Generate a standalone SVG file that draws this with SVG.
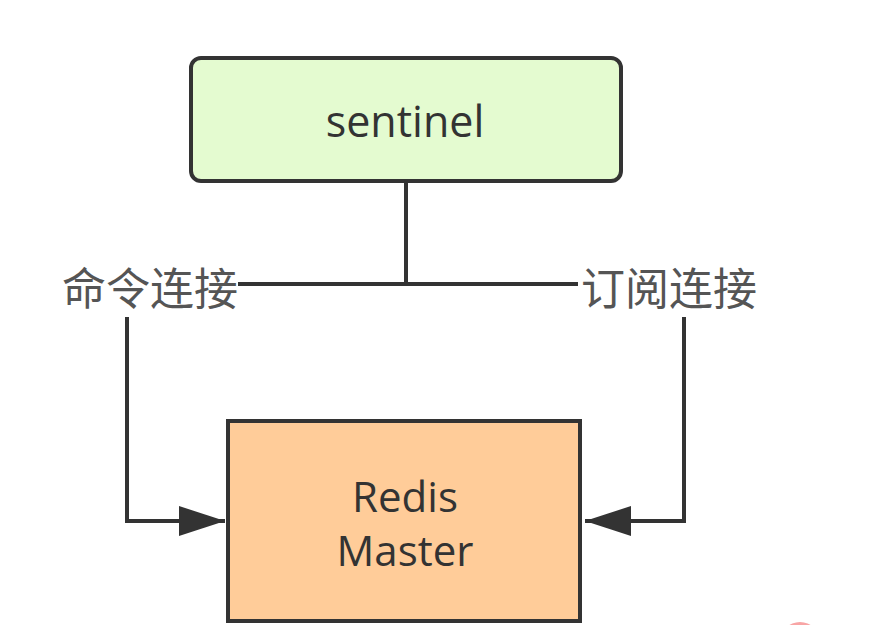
<svg xmlns="http://www.w3.org/2000/svg" width="879" height="625" viewBox="0 0 879 625">
<style>
.box{stroke:#333;stroke-width:4}
.lbl{font-family:"Open Sans","Noto Sans CJK SC",sans-serif;text-anchor:middle}
.conn{fill:none;stroke:#333;stroke-width:4}
.cjk{font-family:"Noto Sans CJK SC",sans-serif;font-size:44px;fill:#555;text-anchor:middle}
</style>
<defs>
<marker id="arr" markerUnits="userSpaceOnUse" markerWidth="48" markerHeight="32" refX="46" refY="15" orient="auto">
<path d="M0,0 L46,15 L0,30 Z" fill="#333"/>
</marker>
</defs>
<rect width="879" height="625" fill="#fff"/>
<g id="connectors">
<path class="conn" d="M406,182 V284"/>
<path class="conn" d="M238,284 H578"/>
<path class="conn" d="M127,317 V521 H225" marker-end="url(#arr)"/>
<path class="conn" d="M684,317 V521 H585" marker-end="url(#arr)"/>
</g>
<g id="sentinel">
<rect class="box" x="191" y="58" width="430" height="123" rx="10" fill="#e4fbd0"/>
<text class="lbl" x="405" y="137" font-size="43" fill="#333">sentinel</text>
</g>
<g id="label-cmd">
<text class="cjk" x="150" y="305">命令连接</text>
</g>
<g id="label-sub">
<text class="cjk" x="669" y="305">订阅连接</text>
</g>
<g id="redis-master">
<rect class="box" x="228" y="421" width="352" height="200" fill="#ffcc99"/>
<text class="lbl" x="405" y="512" font-size="42" fill="#333">Redis</text>
<text class="lbl" x="405" y="566" font-size="42" fill="#333">Master</text>
</g>
<circle cx="800" cy="642" r="20" fill="#f8a5a5"/>
</svg>
